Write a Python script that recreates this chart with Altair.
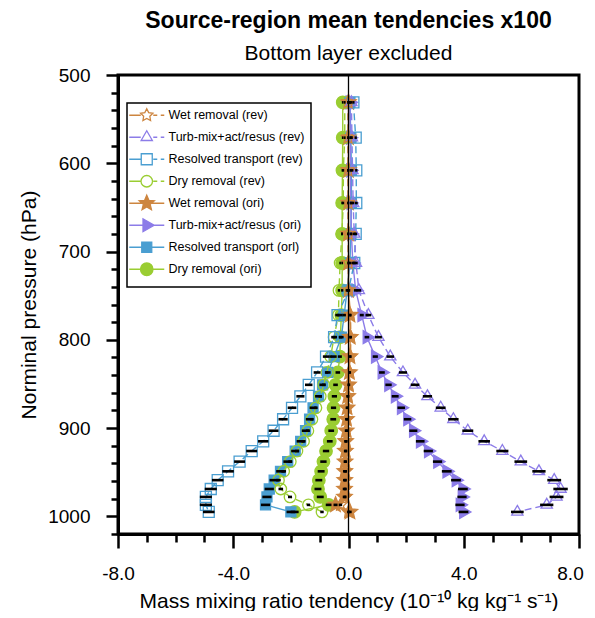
import math
import altair as alt
import pandas as pd

# ---------------- data ----------------
levels = [531, 571, 608, 645, 680, 713, 744, 772, 797, 819, 837, 851, 864,
          877, 890, 903, 915, 926, 938, 949, 959, 969, 978, 987, 995]

series_names = [
    "Wet removal (rev)",
    "Turb-mix+act/resus (rev)",
    "Resolved transport (rev)",
    "Dry removal (rev)",
    "Wet removal (ori)",
    "Turb-mix+act/resus (ori)",
    "Resolved transport (orl)",
    "Dry removal (ori)",
]

wet_rev = [-0.02, -0.02, -0.02, -0.02, -0.02, -0.01, 0.0, 0.07, 0.08, 0.07, 0.05, 0.02, -0.01,
           -0.03, -0.05, -0.06, -0.08, -0.09, -0.10, -0.10, -0.11, -0.11, -0.12, -0.28, 0.0]
turb_rev = [0.10, 0.12, 0.14, 0.16, 0.20, 0.26, 0.36, 0.69, 1.04, 1.45, 1.89, 2.31, 2.74,
            3.20, 3.64, 4.14, 4.71, 5.34, 5.98, 6.61, 7.14, 7.36, 7.22, 6.88, 5.86]
res_rev = [0.17, 0.25, 0.27, 0.27, 0.25, 0.20, 0.0, -0.38, -0.50, -0.78, -1.09, -1.38, -1.67,
           -1.96, -2.27, -2.60, -2.96, -3.36, -3.78, -4.18, -4.54, -4.78, -4.95, -4.95, -4.85]
dry_rev = [-0.13, -0.13, -0.18, -0.18, -0.23, -0.29, -0.33, -0.35, -0.50, -0.62, -0.75, -0.86, -0.98,
           -1.13, -1.27, -1.41, -1.56, -1.79, -2.02, -2.25, -2.43, -2.35, -2.03, -1.39, -0.92]
wet_ori = [0.0, 0.0, 0.0, 0.0, 0.0, 0.0, 0.0, 0.05, 0.06, 0.05, 0.03, 0.0, -0.03,
           -0.05, -0.07, -0.08, -0.10, -0.11, -0.12, -0.13, -0.13, -0.14, -0.14, -0.45, 0.05]
turb_ori = [0.05, 0.06, 0.07, 0.08, 0.10, 0.15, 0.25, 0.46, 0.64, 0.93, 1.16, 1.39, 1.62,
            1.83, 2.05, 2.25, 2.49, 2.77, 3.09, 3.41, 3.73, 3.97, 3.94, 3.87, 3.99]
res_ori = [0.05, 0.08, 0.10, 0.10, 0.08, 0.05, -0.05, -0.15, -0.25, -0.50, -0.72, -0.90, -1.04,
           -1.23, -1.35, -1.49, -1.66, -1.85, -2.11, -2.36, -2.58, -2.75, -2.83, -2.88, -2.00]
dry_ori = [-0.20, -0.20, -0.21, -0.22, -0.22, -0.22, -0.22, -0.25, -0.28, -0.30, -0.37, -0.45, -0.49,
           -0.52, -0.53, -0.60, -0.65, -0.78, -0.87, -0.95, -1.03, -1.06, -0.98, -0.69, -1.87]

# half-widths of the black spread bars
wet_rev_sp = [0.03, 0.03, 0.03, 0.03, 0.03, 0.03, 0.03, 0.04, 0.04, 0.04, 0.04, 0.04, 0.04,
              0.04, 0.04, 0.05, 0.05, 0.05, 0.05, 0.05, 0.05, 0.05, 0.05, 0.06, 0.05]
turb_rev_sp = [0.03, 0.03, 0.03, 0.04, 0.05, 0.06, 0.08, 0.10, 0.12, 0.13, 0.14, 0.15, 0.16,
               0.17, 0.18, 0.19, 0.20, 0.21, 0.22, 0.23, 0.24, 0.25, 0.24, 0.23, 0.22]
res_rev_sp = [0.04, 0.04, 0.04, 0.05, 0.05, 0.05, 0.06, 0.08, 0.10, 0.11, 0.12, 0.13, 0.14,
              0.15, 0.16, 0.17, 0.18, 0.19, 0.19, 0.20, 0.20, 0.21, 0.21, 0.21, 0.20]
dry_rev_sp = [0.03, 0.03, 0.03, 0.03, 0.03, 0.03, 0.04, 0.04, 0.05, 0.05, 0.05, 0.06, 0.06,
              0.06, 0.06, 0.07, 0.07, 0.07, 0.07, 0.08, 0.08, 0.08, 0.07, 0.06, 0.06]
wet_ori_sp = [0.03, 0.03, 0.03, 0.03, 0.03, 0.03, 0.03, 0.04, 0.04, 0.04, 0.04, 0.04, 0.05,
              0.05, 0.05, 0.05, 0.05, 0.05, 0.05, 0.06, 0.06, 0.06, 0.06, 0.07, 0.06]
turb_ori_sp = [0.03, 0.03, 0.03, 0.03, 0.04, 0.05, 0.06, 0.07, 0.08, 0.09, 0.10, 0.11, 0.12,
               0.13, 0.13, 0.14, 0.15, 0.16, 0.16, 0.17, 0.17, 0.17, 0.16, 0.16, 0.17]
res_ori_sp = [0.03, 0.03, 0.03, 0.04, 0.04, 0.04, 0.05, 0.06, 0.08, 0.09, 0.10, 0.11, 0.12,
              0.12, 0.13, 0.13, 0.14, 0.14, 0.15, 0.15, 0.16, 0.16, 0.16, 0.16, 0.15]
dry_ori_sp = [0.03, 0.03, 0.03, 0.03, 0.03, 0.03, 0.04, 0.05, 0.06, 0.07, 0.08, 0.08, 0.09,
              0.09, 0.10, 0.10, 0.10, 0.11, 0.11, 0.12, 0.12, 0.12, 0.12, 0.10, 0.14]

x_ticks = list(range(-8, 9))
y_ticks = list(range(500, 1021, 20))

# ---------------- styling ----------------
ORANGE = "#CD853F"
PURPLE = "#8C7CE8"
BLUE = "#4A9ED1"
GREEN = "#9ACD32"
FONT = "Liberation Sans"


def pt(x, y):
    return f"{x:.3f},{y:.3f}"


def star(r, inner, cx=0.0):
    pts = []
    for k in range(10):
        a = math.radians(-90 + 36 * k)
        rr = r if k % 2 == 0 else r * inner
        pts.append(pt(cx + rr * math.cos(a), rr * math.sin(a)))
    return "M" + "L".join(pts) + "Z"


def tri_up(r, cx=0.0):
    return ("M" + pt(cx, -r) + "L" + pt(cx + 0.866 * r, 0.5 * r) +
            "L" + pt(cx - 0.866 * r, 0.5 * r) + "Z")


def tri_right(r, cx=0.0):
    return ("M" + pt(cx + r, 0) + "L" + pt(cx - 0.5 * r, 0.866 * r) +
            "L" + pt(cx - 0.5 * r, -0.866 * r) + "Z")


def square(h, cx=0.0):
    return f"M{cx - h:.3f},{-h:.3f}H{cx + h:.3f}V{h:.3f}H{cx - h:.3f}Z"


def circle(r, cx=0.0):
    return (f"M{cx + r:.3f},0A{r:.3f},{r:.3f} 0 1,1 {cx - r:.3f},0"
            f"A{r:.3f},{r:.3f} 0 1,1 {cx + r:.3f},0Z")


MK = 2.5  # marker centre inside the legend sample (symbol units)


def legend_sample(marker_fn, dashed):
    if dashed:
        line = "M-1,0H1.3M3.8,0H4.6M5.3,0H6"
    else:
        line = "M-1,0H6"
    ext = f"M{MK},-1.7M{MK},1.7"
    return ext + line + marker_fn(MK)


specs = [
    # name, values, spreads, colour, dashed, marker fn, fill
    (series_names[0], wet_rev, wet_rev_sp, ORANGE, True, lambda c: star(1.3, 0.5, c), "transparent"),
    (series_names[1], turb_rev, turb_rev_sp, PURPLE, True, lambda c: tri_up(1.3, c), "transparent"),
    (series_names[2], res_rev, res_rev_sp, BLUE, True, lambda c: square(1.1, c), "transparent"),
    (series_names[3], dry_rev, dry_rev_sp, GREEN, True, lambda c: circle(1.15, c), "transparent"),
    (series_names[4], wet_ori, wet_ori_sp, ORANGE, False, lambda c: star(1.6, 0.45, c), ORANGE),
    (series_names[5], turb_ori, turb_ori_sp, PURPLE, False, lambda c: tri_right(1.5, c), PURPLE),
    (series_names[6], res_ori, res_ori_sp, BLUE, False, lambda c: square(1.0, c), BLUE),
    (series_names[7], dry_ori, dry_ori_sp, GREEN, False, lambda c: circle(1.25, c), GREEN),
]

rows = []
for name, vals, sps, *_ in specs:
    for lev, v, s in zip(levels, vals, sps):
        rows.append({"series": name, "level": lev, "value": v, "lo": v - s, "hi": v + s})
df = pd.DataFrame(rows)

x_scale = alt.Scale(domain=[-8, 8], nice=False, zero=False)
y_scale = alt.Scale(domain=[500, 1020], nice=False, zero=False, reverse=True)

x_axis = alt.Axis(
    values=x_ticks,
    title="Mass mixing ratio tendency (10\u207b\u00b9\u2070 kg kg\u207b\u00b9 s\u207b\u00b9)",
    labelExpr="datum.value % 4 === 0 ? (datum.value < 0 ? '-' : '') + format(abs(datum.value), '.1f') : ''",
    tickSize={"condition": {"test": "datum.value % 4 === 0", "value": 14}, "value": 8},
    labelOffset={"condition": {"test": "datum.value === 8", "value": -9}, "value": 0},
    labelPadding=16, titlePadding=7, labelFontSize=19, titleFontSize=21,
    grid=False, labelFlush=False, labelOverlap=False,
)
y_axis = alt.Axis(
    values=y_ticks,
    title="Norminal pressure (hPa)",
    labelExpr="datum.value % 100 === 0 ? '' + datum.value : ''",
    tickSize={"condition": {"test": "datum.value % 100 === 0", "value": 12}, "value": 7},
    labelPadding=16, titlePadding=8, labelFontSize=19, titleFontSize=21,
    grid=False, labelFlush=False, labelOverlap=False,
)


def X(field):
    return alt.X(field, type="quantitative", scale=x_scale, axis=x_axis)


def Y(field):
    return alt.Y(field, type="quantitative", scale=y_scale, axis=y_axis)


layers = []
# drawn in reverse legend order (last legend entry at the bottom of the stack)
for name, vals, sps, color, dashed, mfn, fill in reversed(specs):
    base = alt.Chart(df).transform_filter(alt.datum.series == name)
    line_kwargs = dict(color=color, strokeWidth=1.4)
    if dashed:
        line_kwargs["strokeDash"] = [7, 4]
    layers.append(base.mark_line(**line_kwargs).encode(x=X("value"), y=Y("level"), order="level:Q"))
    layers.append(
        base.mark_point(shape=mfn(0.0), size=100, filled=not dashed, fill=fill, stroke=color,
                        strokeWidth=1.3, opacity=1).encode(x=X("value"), y=Y("level"))
    )

bars = alt.Chart(df).mark_rule(color="black", strokeWidth=2.6).encode(
    x=X("lo"), x2="hi:Q", y=Y("level"))
layers.append(bars)

zero = alt.Chart(pd.DataFrame({"z": [0.0]})).mark_rule(color="black", strokeWidth=1.3).encode(x=X("z"))
layers.append(zero)

leg = alt.Legend(title=None, orient="none", legendX=9, legendY=28, padding=6,
                 rowPadding=-1.0, labelOffset=28, symbolOffset=-5, symbolSize=100,
                 symbolStrokeWidth=1.3, labelFontSize=12.5, labelFont=FONT, labelColor="black",
                 strokeColor="black", fillColor="white")
legend_layer = alt.Chart(df).transform_filter("false").mark_point(opacity=1, strokeWidth=1.3).encode(
    x=X("value"), y=Y("level"),
    shape=alt.Shape("series:N", scale=alt.Scale(domain=series_names,
                    range=[legend_sample(s[5], s[4]) for s in specs]), legend=leg),
    stroke=alt.Stroke("series:N", scale=alt.Scale(domain=series_names,
                      range=[s[3] for s in specs]), legend=leg),
    fill=alt.Fill("series:N", scale=alt.Scale(domain=series_names,
                  range=[s[6] for s in specs]), legend=leg),
)
layers.append(legend_layer)

chart = alt.layer(*layers).properties(
    width=461, height=459,
    autosize=alt.AutoSizeParams(type="none"),
    padding={"left": 110, "top": 67, "right": 8, "bottom": 77},
    title=alt.TitleParams(
        text="Source-region mean tendencies x100",
        subtitle="Bottom layer excluded",
        font=FONT, fontSize=23, fontWeight="bold", color="black",
        subtitleFont=FONT, subtitleFontSize=21, subtitleColor="black",
        anchor="middle", offset=2, subtitlePadding=10,
    ),
).configure_view(stroke="black", strokeWidth=3).configure_axis(
    labelFont=FONT, titleFont=FONT, labelColor="black", titleColor="black",
    domainColor="black", domainWidth=3, tickColor="black", tickWidth=2.5,
    titleFontWeight="normal",
).configure_legend(strokeWidth=1.5)

chart.save("out.html", embed_options={"renderer": "svg", "actions": False})
